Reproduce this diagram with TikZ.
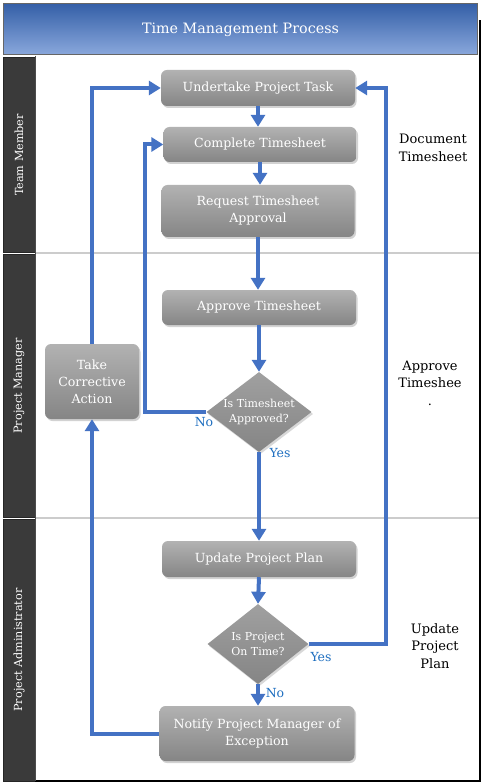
\documentclass[tikz,border=0pt]{standalone}
\usepackage{fontspec}
\setmainfont{DejaVu Serif}
\usetikzlibrary{arrows.meta,shapes.geometric,shadows,calc}
\definecolor{flowblue}{HTML}{4472C4}
\definecolor{lblblue}{HTML}{1F6FC0}
\definecolor{boxtop}{HTML}{B2B2B2}
\definecolor{boxbot}{HTML}{858585}
\definecolor{lanedark}{HTML}{3A3A3A}
\definecolor{titletop}{HTML}{3560A8}
\definecolor{titlebot}{HTML}{8AA8DC}
\tikzset{
  stepbox/.style={rectangle, rounded corners=6pt, top color=boxtop, bottom color=boxbot,
    draw=none, text=white, align=center, font=\fontsize{12.6}{17}\selectfont,
    drop shadow={opacity=0.35, shadow xshift=1.5pt, shadow yshift=-2pt}},
  decide/.style={diamond, top color=boxtop!90!black, bottom color=boxbot, draw=none,
    inner sep=0pt,
    drop shadow={opacity=0.3, shadow xshift=1.5pt, shadow yshift=-2pt}},
  dtext/.style={text=white, align=center, font=\fontsize{11}{15}\selectfont},
  flow/.style={draw=flowblue, line width=4pt, -{Triangle[width=14pt,length=12pt]}},
  lanehead/.style={rectangle, fill=lanedark, draw=black!85, line width=1pt},
  lanetext/.style={text=white, rotate=90, font=\fontsize{11.2}{13}\selectfont},
  sidetext/.style={text=black, align=center, font=\fontsize{13}{17.5}\selectfont},
  yn/.style={text=lblblue, font=\fontsize{12.5}{14}\selectfont},
}
\begin{document}
\begin{tikzpicture}[x=1pt,y=-1pt]
\useasboundingbox (0,0) rectangle (483,783);
\fill[white] (0,0) rectangle (483,783);
% lane headers
\node[lanehead, minimum width=32pt, minimum height=195pt, inner sep=0pt] (h1) at (19,155) {};
\node[lanehead, minimum width=32pt, minimum height=262pt, inner sep=0pt] (h2) at (19,386) {};
\node[lanehead, minimum width=32pt, minimum height=262pt, inner sep=0pt] (h3) at (19,650) {};
\node[lanetext] (t1) at (h1) {Team Member};
\node[lanetext] (t2) at (h2) {Project Manager};
\node[lanetext] (t3) at (h3) {Project Administrator};
% lane separators and frame
\draw[black!20, line width=1.5pt] (35,253) -- (479,253);
\draw[black!20, line width=1.5pt] (35,518) -- (479,518);
\draw[black, line width=1.5pt] (35,781) -- (480,781) -- (480,20);
\draw[black!70, line width=1pt] (35,56) -- (35,781);
% title
\node[rectangle, top color=titletop, bottom color=titlebot, draw=black!60, line width=1pt,
  minimum width=474pt, minimum height=51pt, inner sep=0pt, text=white,
  font=\fontsize{14.3}{16}\selectfont] (title) at (240.5,29.5) {Time Management Process};
% steps
\node[stepbox, minimum width=194pt, minimum height=36pt] (up) at (258,88) {Undertake Project Task};
\node[stepbox, minimum width=193pt, minimum height=35pt] (ct) at (260,144.5) {Complete Timesheet};
\node[stepbox, minimum width=193pt, minimum height=52pt] (rq) at (258,211) {Request Timesheet\\Approval};
\node[stepbox, minimum width=194pt, minimum height=35pt] (ap) at (259,307.5) {Approve Timesheet};
\node[decide, minimum width=105pt, minimum height=80pt,
  label={[dtext]center:{Is Timesheet\\Approved?}}] (d1) at (259,412) {};
\node[stepbox, minimum width=94pt, minimum height=75pt] (tc) at (92,381.5) {Take\\Corrective\\Action};
\node[stepbox, minimum width=194pt, minimum height=36pt] (pp) at (259,559) {Update Project Plan};
\node[decide, minimum width=101pt, minimum height=80pt,
  label={[dtext]center:{Is Project\\On Time?}}] (d2) at (258,644) {};
\node[stepbox, minimum width=195pt, minimum height=55pt] (nt) at (257,733.5) {Notify Project Manager of\\Exception};
% side notes
\node[sidetext] (s1) at (433,148) {Document\\Timesheet};
\node[sidetext] (s2) at (430,383) {Approve\\Timeshee\\.};
\node[sidetext] (s3) at (435,646) {Update\\Project\\Plan};
% helper coordinates
\coordinate (xL) at (145,0);
\coordinate (xR) at (386,0);
% connectors
\draw[flow] (up.south) -- (up.south |- ct.north);
\draw[flow] (ct.south) -- (ct.south |- rq.north);
\draw[flow] (rq.south) -- (rq.south |- ap.north);
\draw[flow] (ap.south) -- (d1.north);
\draw[flow] (d1.west) -| (xL |- ct.west) -- (ct.west);
\draw[flow] (d1.south) -- (d1.south |- pp.north);
\draw[flow] (pp.south) -- (d2.north);
\draw[flow] (d2.east) -| (xR |- up.east) -- (up.east);
\draw[flow] (d2.south) -- (d2.south |- nt.north);
\draw[flow] (nt.west) -| (tc.south);
\draw[flow] (tc.north) |- (up.west);
% labels
\node[yn] (no1) at (204,422) {No};
\node[yn] (yes1) at (280,453) {Yes};
\node[yn] (yes2) at (321,657) {Yes};
\node[yn] (no2) at (275,693) {No};
\end{tikzpicture}
\end{document}
